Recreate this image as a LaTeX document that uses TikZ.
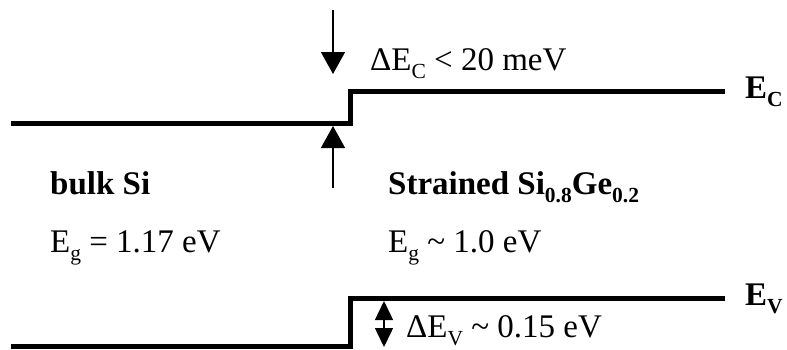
\documentclass[tikz,border=0pt]{standalone}
\usepackage{fontspec}
\setmainfont{Liberation Serif}
\usetikzlibrary{arrows.meta}
\newcommand\sbs[1]{\raisebox{-0.26em}{\fontsize{21.5}{22}\selectfont #1}}
\begin{document}
\begin{tikzpicture}[x=1pt,y=-1pt,
  band/.style={line width=5pt,line join=miter,line cap=butt},
  bigarrow/.style={line width=1.5pt,-{Triangle[length=22pt,width=24pt]}},
  dblarrow/.style={line width=1.5pt,{Triangle[length=19pt,width=18pt]}-{Triangle[length=19pt,width=18pt]}},
  lbl/.style={anchor=base west,inner sep=0pt,font=\fontsize{33}{40}\selectfont},
  blbl/.style={lbl,font=\fontsize{33}{40}\selectfont\bfseries}]
\useasboundingbox (0,0) rectangle (787,349);
% conduction band
\coordinate (cbL) at (11,123);
\coordinate (cbS1) at (350,123);
\coordinate (cbS2) at (350,91);
\coordinate (cbR) at (725,91);
\draw[band] (cbL) -- (cbS1) -- (cbS2) -- (cbR);
% valence band
\coordinate (vbL) at (11,346);
\coordinate (vbS1) at (350,346);
\coordinate (vbS2) at (350,298.5);
\coordinate (vbR) at (725,298.5);
\draw[band] (vbL) -- (vbS1) -- (vbS2) -- (vbR);
% offset arrows
\coordinate (dA) at (333,10);
\coordinate (dB) at (333,74);
\coordinate (uA) at (333,188);
\coordinate (uB) at (333,126);
\draw[bigarrow] (dA) -- (dB);
\draw[bigarrow] (uA) -- (uB);
\coordinate (vA) at (384,301);
\coordinate (vB) at (384,347);
\draw[dblarrow] (vA) -- (vB);
% labels
\node[lbl] (dec) at (370,70) {ΔE\sbs{C} < 20 meV};
\node[blbl] (ec) at (745,98) {E\sbs{C}};
\node[blbl] (ev) at (745,305) {E\sbs{V}};
\node[blbl] (bulk) at (50,194) {bulk Si};
\node[blbl] (str) at (388,194) {Strained Si\sbs{0.8}Ge\sbs{0.2}};
\node[lbl] (eg1) at (50,252) {E\sbs{g} = 1.17 eV};
\node[lbl] (eg2) at (388,252) {E\sbs{g} \textasciitilde{} 1.0 eV};
\node[lbl] (dev) at (406,337) {ΔE\sbs{V} \textasciitilde{} 0.15 eV};
\end{tikzpicture}
\end{document}
